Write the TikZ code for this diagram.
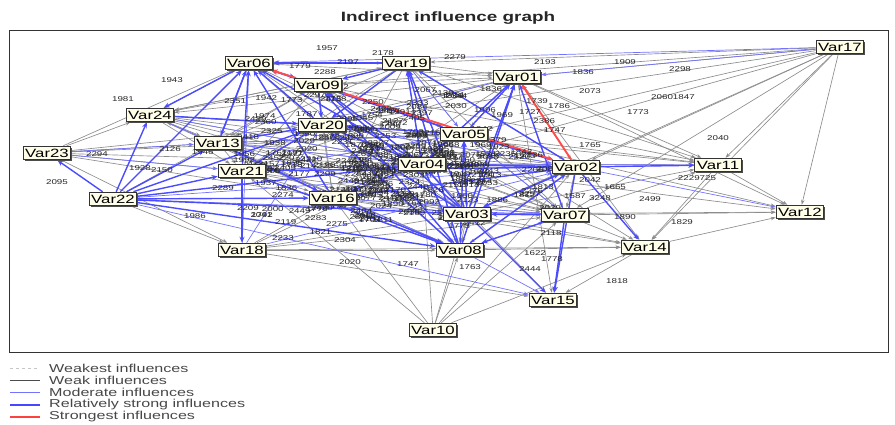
\documentclass[tikz,border=0pt]{standalone}
\usepackage{fontspec}
\setmainfont{Liberation Sans}[FakeStretch=1.4]
\usetikzlibrary{shadows,arrows.meta}
\begin{document}
\begin{tikzpicture}[x=1pt,y=-1pt,
 var/.style={draw=black!80, line width=1pt, fill=yellow!9, font=\fontsize{12}{12}\selectfont, inner xsep=2pt, inner ysep=1.2pt, minimum height=13.5pt,
   drop shadow={shadow xshift=1.6pt, shadow yshift=-1.6pt, fill=black!70, opacity=1}},
 wk/.style={draw=black!45, line width=0.65pt, -{Stealth[length=5pt,width=3.5pt]}},
 md/.style={draw=blue!55, line width=0.7pt, -{Stealth[length=5pt,width=3.5pt]}},
 st/.style={draw=blue!70, line width=1.4pt, -{Stealth[length=6pt,width=5pt]}},
 rd/.style={draw=red!70, line width=1.9pt, -{Stealth[length=6pt,width=5pt]}},
 num/.style={font=\fontsize{7}{7}\selectfont, inner sep=0pt, text=black!85},
 cl/.style={font=\fontsize{7}{7}\selectfont, inner sep=0pt, text=black!85},
 leg/.style={font=\fontsize{11.5}{11.5}\selectfont, text=black!72, anchor=west, inner sep=0pt},
]
\useasboundingbox (0,0) rectangle (895,425);
\node[font=\bfseries\fontsize{13.5}{13.5}\selectfont, text=black!85] (title) at (448,18) {Indirect influence graph};
\draw[line width=0.8pt, black!80] (9,30) rectangle (888,352);

% nodes (placed first so edges can reference them; redrawn on top later)
\begin{scope}[every node/.style={var}]
\node (v06) at (249,63) {Var06};
\node (v19) at (406,63) {Var19};
\node (v09) at (318,85) {Var09};
\node (v01) at (517,77) {Var01};
\node (v17) at (840,47) {Var17};
\node (v24) at (150,115) {Var24};
\node (v20) at (322,125) {Var20};
\node (v05) at (464,134) {Var05};
\node (v13) at (218,143) {Var13};
\node (v23) at (47,153) {Var23};
\node (v04) at (422,164) {Var04};
\node (v02) at (576,167) {Var02};
\node (v11) at (718,165) {Var11};
\node (v21) at (242,171) {Var21};
\node (v22) at (113,199) {Var22};
\node (v16) at (333,198) {Var16};
\node (v03) at (467,214) {Var03};
\node (v07) at (565,215) {Var07};
\node (v12) at (800,212) {Var12};
\node (v18) at (242,250) {Var18};
\node (v08) at (460,250) {Var08};
\node (v14) at (645,247) {Var14};
\node (v15) at (553,300) {Var15};
\node (v10) at (433,330) {Var10};
\end{scope}

% weak influences: dense core
\foreach \a [count=\i] in {v06,v19,v09,v01,v24,v20,v05,v13,v04,v02,v21,v16,v03,v07,v08}{
  \foreach \b [count=\j] in {v06,v19,v09,v01,v24,v20,v05,v13,v04,v02,v21,v16,v03,v07,v08}{
    \ifnum\i<\j \draw[wk] (\a) -- (\b); \fi
  }
}
% weak influences: periphery
\foreach \a/\b in {v17/v19,v17/v01,v17/v05,v17/v02,v17/v04,v17/v11,v17/v12,v17/v07,v17/v14,v17/v03,v17/v20,v17/v09,
  v23/v24,v23/v06,v23/v13,v23/v21,v23/v20,v23/v16,v23/v18,v23/v04,v23/v05,v22/v18,
  v18/v08,v18/v03,v18/v14,v18/v15,v18/v16,v18/v04,v18/v07,
  v10/v08,v10/v03,v10/v16,v10/v02,v10/v07,v10/v04,v10/v21,v10/v14,
  v14/v15,v04/v15,v01/v15,v07/v14,v03/v14,v08/v14,v01/v14,v05/v14,v11/v14,v16/v14,
  v07/v12,v01/v12,v05/v12,v04/v12,v11/v12,v03/v12,v14/v12,
  v01/v11,v05/v11,v04/v11,v20/v11,v19/v11,v09/v11,v03/v11,v07/v11,
  v24/v06,v24/v19,v22/v06,v22/v09}{
  \draw[wk] (\a) -- (\b);
}
% moderate influences
\foreach \a/\b in {v17/v06,v17/v01,v22/v15,v22/v02,v18/v20,v18/v02,v08/v07,v04/v11,v21/v05,
  v13/v05,v24/v05,v16/v07,v18/v06,v23/v13,v23/v21,v08/v15,v02/v12,v22/v07,v21/v08,
  v08/v24,v03/v13,v07/v05,v02/v20,v01/v20,v19/v05,v16/v05,v21/v04,v24/v04,v13/v04}{
  \draw[md] (\a) -- (\b);
}
% relatively strong influences
\foreach \a/\b in {v22/v06,v22/v24,v22/v13,v22/v21,v22/v20,v22/v04,v22/v16,v22/v08,v22/v03,v22/v23,
  v21/v06,v13/v06,v16/v06,v20/v06,v04/v06,v05/v06,v19/v06,v03/v19,v08/v19,v04/v19,v02/v19,
  v03/v01,v08/v01,v04/v01,v05/v01,v07/v01,v02/v11,v02/v14,v07/v15,v03/v15,v02/v15,
  v08/v04,v03/v04,v21/v18,v20/v04,v16/v02,v04/v02,v21/v02,v03/v02,v08/v02,
  v09/v20,v24/v20,v13/v20,v21/v20,v16/v08,v13/v16,
  v08/v20,v08/v09,v08/v05,v08/v21,v03/v20,v03/v09,v03/v05,v04/v09,v04/v16,
  v05/v20,v05/v09,v02/v05,v02/v04,v02/v03,v07/v03,v07/v08,v06/v09,v06/v24,v06/v13,v19/v09,v19/v20}{
  \draw[st] (\a) -- (\b);
}
% strongest influences
\draw[rd] (v09) -- (v06);
\draw[rd] (v09) -- (v02);
\draw[rd] (v02) -- (v01);

% influence values (dense centre)
\pgfmathsetseed{4711}
\foreach \k in {1,...,260}{
  \pgfmathsetmacro\px{195+(rnd+rnd)*185}
  \pgfmathsetmacro\py{82+(rnd+rnd)*80}
  \pgfmathtruncatemacro\nv{1700+rnd*760}
  \node[cl] (r\k) at (\px,\py) {\nv};
}
% readable influence values
\foreach \t/\x/\y [count=\k] in {1957/327/48,2178/383/53,1779/300/66,2197/348/62,2288/325/72,2279/455/57,
  2193/545/62,1909/625/62,1836/583/72,2298/680/69,2073/590/91,20601847/673/97,1773/638/112,
  2040/718/138,1765/590/145,1943/172/80,1981/123/99,2095/57/182,2294/97/154,1986/195/216,
  2020/350/262,1747/408/264,1763/470/267,1778/552/259,2444/530/269,1622/535/253,1818/617/281,
  1829/682/222,1890/625/217,2118/551/233,2499/650/199,1665/615/187,2229725/697/178,1739/537/101,
  2304/345/240,2233/283/238,2275/337/224,1792/262/215,2289/223/188,2126/170/149,2150/162/170,
  1928/140/168,2209/248/208,1727/530/112,2042/590/180,3248/600/198,1587/575/196,2420/322/208}{
  \node[num] (n\k) at (\x,\y) {\t};
}

% nodes on top
\begin{scope}[every node/.style={var}]
\node at (v06) {Var06};
\node at (v19) {Var19};
\node at (v09) {Var09};
\node at (v01) {Var01};
\node at (v17) {Var17};
\node at (v24) {Var24};
\node at (v20) {Var20};
\node at (v05) {Var05};
\node at (v13) {Var13};
\node at (v23) {Var23};
\node at (v04) {Var04};
\node at (v02) {Var02};
\node at (v11) {Var11};
\node at (v21) {Var21};
\node at (v22) {Var22};
\node at (v16) {Var16};
\node at (v03) {Var03};
\node at (v07) {Var07};
\node at (v12) {Var12};
\node at (v18) {Var18};
\node at (v08) {Var08};
\node at (v14) {Var14};
\node at (v15) {Var15};
\node at (v10) {Var10};
\end{scope}

% legend
\coordinate (la1) at (10,368); \coordinate (lb1) at (40,368);
\coordinate (la2) at (10,380); \coordinate (lb2) at (40,380);
\coordinate (la3) at (10,392); \coordinate (lb3) at (40,392);
\coordinate (la4) at (10,405); \coordinate (lb4) at (40,405);
\coordinate (la5) at (10,417); \coordinate (lb5) at (40,417);
\draw[gray!45, dashed, line width=0.6pt] (la1) -- (lb1);
\draw[black!70, line width=0.7pt] (la2) -- (lb2);
\draw[blue!55, line width=0.8pt] (la3) -- (lb3);
\draw[blue!72, line width=1.6pt] (la4) -- (lb4);
\draw[red!75, line width=1.1pt] (la5) -- (lb5);
\node[leg] (t1) at (49,368) {Weakest influences};
\node[leg] (t2) at (49,380) {Weak influences};
\node[leg] (t3) at (49,392) {Moderate influences};
\node[leg] (t4) at (49,405) {Relatively strong influences};
\node[leg] (t5) at (49,417) {Strongest influences};
\end{tikzpicture}
\end{document}
